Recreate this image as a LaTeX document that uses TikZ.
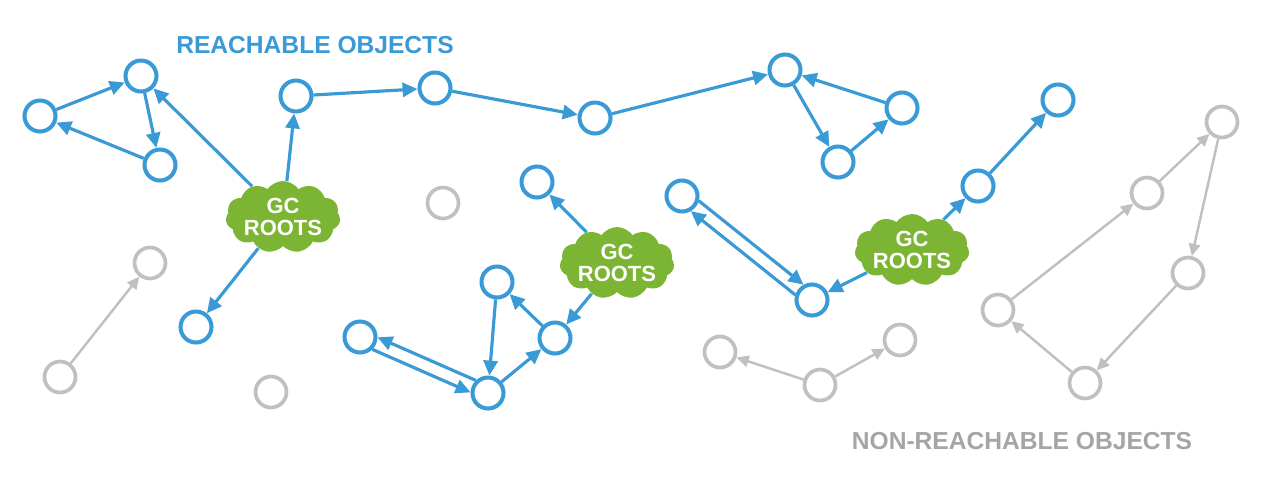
\documentclass[tikz,border=0pt]{standalone}
\usepackage{fontspec}
\setmainfont{Liberation Sans}
\usetikzlibrary{shapes.symbols, arrows.meta}

\definecolor{reachblue}{RGB}{58,154,214}
\definecolor{rootgreen}{RGB}{124,180,52}
\definecolor{lostgray}{RGB}{192,192,192}
\definecolor{labelgray}{RGB}{165,165,165}

\begin{document}
\begin{tikzpicture}[x=0.02cm, y=-0.02cm,
    obj/.style={circle, draw=reachblue, line width=2.3pt, minimum size=0.62cm, inner sep=0pt},
    deadobj/.style={circle, draw=lostgray, line width=2.1pt, minimum size=0.62cm, inner sep=0pt},
    % Style pour les racines (nuage vert)
    root/.style={cloud, cloud puffs=11, cloud puff arc=110, aspect=1.9, fill=rootgreen, draw=none, text=white,
        font=\bfseries\fontsize{12.5}{12.5}\selectfont, align=center,
        minimum width=2.25cm, minimum height=1.3cm, inner sep=0pt},
    link/.style={-{Triangle[length=8.5pt, width=8pt]}, draw=reachblue, line width=1.8pt},
    deadlink/.style={-{Triangle[length=7pt, width=6.5pt]}, draw=lostgray, line width=1.4pt}
]
\useasboundingbox (0,0) rectangle (1266,478);

% --- RACINES ---
\node[root] (root1) at (283,217) {GC\\ROOTS};
\node[root] (root2) at (617,263) {GC\\ROOTS};
\node[root] (root3) at (912,250) {GC\\ROOTS};

% --- OBJETS ATTEIGNABLES ---
% Triangle en haut a gauche
\node[obj] (a1) at (40,116) {};
\node[obj] (a2) at (141,76) {};
\node[obj] (a3) at (160,165) {};
\node[obj] (c1) at (196,327) {};

% Chaine du haut
\node[obj] (b1) at (296,96) {};
\node[obj] (b2) at (435,88) {};
\node[obj] (b3) at (595,118) {};
\node[obj] (b4) at (785,70) {};
\node[obj] (b5) at (838,162) {};
\node[obj] (b6) at (902,108) {};

% Groupe du milieu
\node[obj] (d1) at (537,182) {};
\node[obj] (d2) at (555,338) {};
\node[obj] (d3) at (497,282) {};
\node[obj] (d4) at (488,393) {};
\node[obj] (d5) at (360,337) {};

% Groupe de droite
\node[obj] (e1) at (682,196) {};
\node[obj] (e2) at (812,300) {};
\node[obj] (e3) at (978,186) {};
\node[obj] (e4) at (1058,100) {};

% --- OBJETS NON ATTEIGNABLES ---
\node[deadobj] (g1) at (443,203) {};
\node[deadobj] (g2) at (150,263) {};
\node[deadobj] (g3) at (60,377) {};
\node[deadobj] (g4) at (271,392) {};

\node[deadobj] (h1) at (720,352) {};
\node[deadobj] (h2) at (820,385) {};
\node[deadobj] (h3) at (900,340) {};

\node[deadobj] (k1) at (1222,122) {};
\node[deadobj] (k2) at (1147,193) {};
\node[deadobj] (k3) at (1188,273) {};
\node[deadobj] (k4) at (998,310) {};
\node[deadobj] (k5) at (1085,383) {};

% --- CONNEXIONS ---
\foreach \i/\j in {a1/a2, a2/a3, a3/a1, root1/a2, root1/b1, root1/c1,
                   b1/b2, b2/b3, b3/b4, b4/b5, b5/b6, b6/b4,
                   root2/d1, root2/d2, d2/d3, d3/d4, d4/d2,
                   root3/e2, root3/e3, e3/e4}
    \draw[link] (\i) -- (\j);

% Aller-retour (lignes paralleles)
\draw[link] (d4.134) -- (d5.-1);
\draw[link] (d5.-45) -- (d4.178);
\draw[link] (e1.-16) -- (e2.119);
\draw[link] (e2.163) -- (e1.-60);

\foreach \i/\j in {g3/g2, h2/h1, h2/h3, k4/k2, k2/k1, k1/k3, k3/k5, k5/k4}
    \draw[deadlink] (\i) -- (\j);

% --- LABELS ---
\node[font=\bfseries\fontsize{14}{16}\selectfont, text=reachblue] (reach) at (315,45) {REACHABLE OBJECTS};
\node[font=\bfseries\fontsize{14}{16}\selectfont, text=labelgray] (lost) at (1022,441) {NON-REACHABLE OBJECTS};

\end{tikzpicture}
\end{document}
